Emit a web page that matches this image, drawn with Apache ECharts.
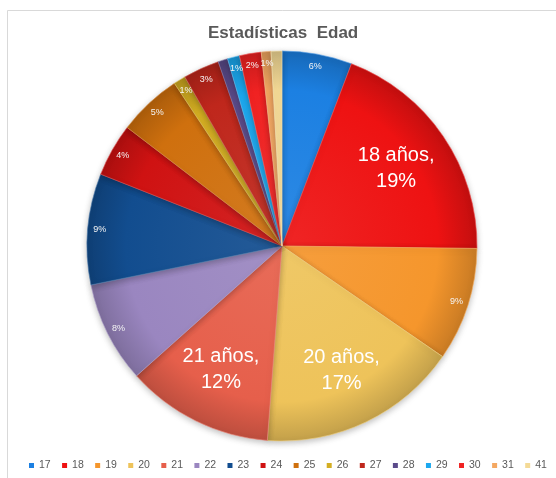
<!DOCTYPE html>
<html>
<head>
<meta charset="utf-8">
<script src="https://cdn.jsdelivr.net/npm/echarts@6/dist/echarts.min.js"></script>
<style>
html,body{margin:0;padding:0;background:#fff;}
#chart{width:556px;height:478px;}
</style>
</head>
<body>
<div id="chart"></div>
<script>
// Data
const ages = ['17','18','19','20','21','22','23','24','25','26','27','28','29','30','31','41'];
const percents = [5.8, 19.4, 9.4, 16.6, 12.2, 8.4, 9.2, 4.4, 5.3, 1.0, 3.0, 0.8, 1.0, 1.8, 0.8, 0.9];
const bigLabelAges = ['18','20','21'];
const colors = ['#1c80e2','#ee1212','#f5962c','#eec35a','#e65f4b','#9a86c0','#124d8f','#cf1212',
                '#cf700e','#d4ae22','#bf271c','#5b4b8b','#1ca8ef','#f02222','#f4a862','#f4da96'];

const CX = 282, CY = 246, R = 195;

function shade(hex, f){
  let c = hex.replace('#','');
  let r = parseInt(c.substr(0,2),16), g = parseInt(c.substr(2,2),16), b = parseInt(c.substr(4,2),16);
  if (f >= 0){ r = r + (255-r)*f; g = g + (255-g)*f; b = b + (255-b)*f; }
  else { r = r*(1+f); g = g*(1+f); b = b*(1+f); }
  return 'rgb(' + Math.round(r) + ',' + Math.round(g) + ',' + Math.round(b) + ')';
}

const mainData = ages.map((a,i)=>({
  name: a, value: percents[i],
  itemStyle: {
    color: {type:'radial', x: CX, y: CY, r: R, global: true,
      colorStops:[{offset:0,color:shade(colors[i],0.08)},{offset:0.8,color:colors[i]},{offset:1,color:shade(colors[i],-0.18)}]},
    borderColor: shade(colors[i],0.25), borderWidth: 0.6
  }
}));

const smallLabelData = ages.map((a,i)=>({
  name: a, value: percents[i],
  label: {show: bigLabelAges.indexOf(a) < 0}
}));
const bigLabelData = ages.map((a,i)=>({
  name: a, value: percents[i],
  label: {show: bigLabelAges.indexOf(a) >= 0}
}));
const legendData = ages.map((a,i)=>({name: a, itemStyle: {color: colors[i], borderWidth: 0}}));

const chart = echarts.init(document.getElementById('chart'), null, {renderer:'canvas'});
chart.setOption({
  backgroundColor: '#ffffff',
  animation: false,
  graphic: [{
    type: 'rect', shape: {x: 7.5, y: 10.5, width: 700, height: 700},
    style: {fill: 'none', stroke: '#d9d9d9', lineWidth: 1}, silent: true, z: -1
  }],
  title: {
    text: 'Estadísticas  Edad', left: 203, top: 20,
    textStyle: {fontFamily: 'Liberation Sans', fontSize: 17, fontWeight: 'bold', color: '#595959'}
  },
  legend: {
    data: legendData, bottom: 2, left: 24, width: 545, icon: 'rect', itemWidth: 5, itemHeight: 5, itemGap: 11.4,
    textStyle: {fontFamily: 'Liberation Sans', fontSize: 10.5, color: '#595959'}
  },
  series: [
    {
      type: 'pie', center: [CX, CY], radius: [0, R], startAngle: 90, clockwise: true,
      data: mainData, label: {show: false}, labelLine: {show: false},
      itemStyle: {shadowBlur: 6, shadowColor: 'rgba(0,0,0,0.25)', shadowOffsetY: 2},
      emphasis: {disabled: true}
    },
    {
      type: 'pie', center: [CX, CY], radius: [165, R], startAngle: 90, clockwise: true, silent: true,
      data: smallLabelData, itemStyle: {color: 'rgba(0,0,0,0)'}, labelLine: {show: false},
      emphasis: {disabled: true},
      label: {position: 'inside', color: '#f4f4f4', fontFamily: 'Liberation Sans', fontSize: 9,
        formatter: p => Math.round(p.percent) + '%'}
    },
    {
      type: 'pie', center: [CX, CY], radius: [75, R], startAngle: 90, clockwise: true, silent: true,
      data: bigLabelData, itemStyle: {color: 'rgba(0,0,0,0)'}, labelLine: {show: false},
      emphasis: {disabled: true},
      label: {position: 'inside', color: '#ffffff', fontFamily: 'Liberation Sans', fontSize: 20, lineHeight: 26,
        formatter: p => p.name + ' años,\n' + Math.round(p.percent) + '%'}
    }
  ]
});
</script>
</body>
</html>
